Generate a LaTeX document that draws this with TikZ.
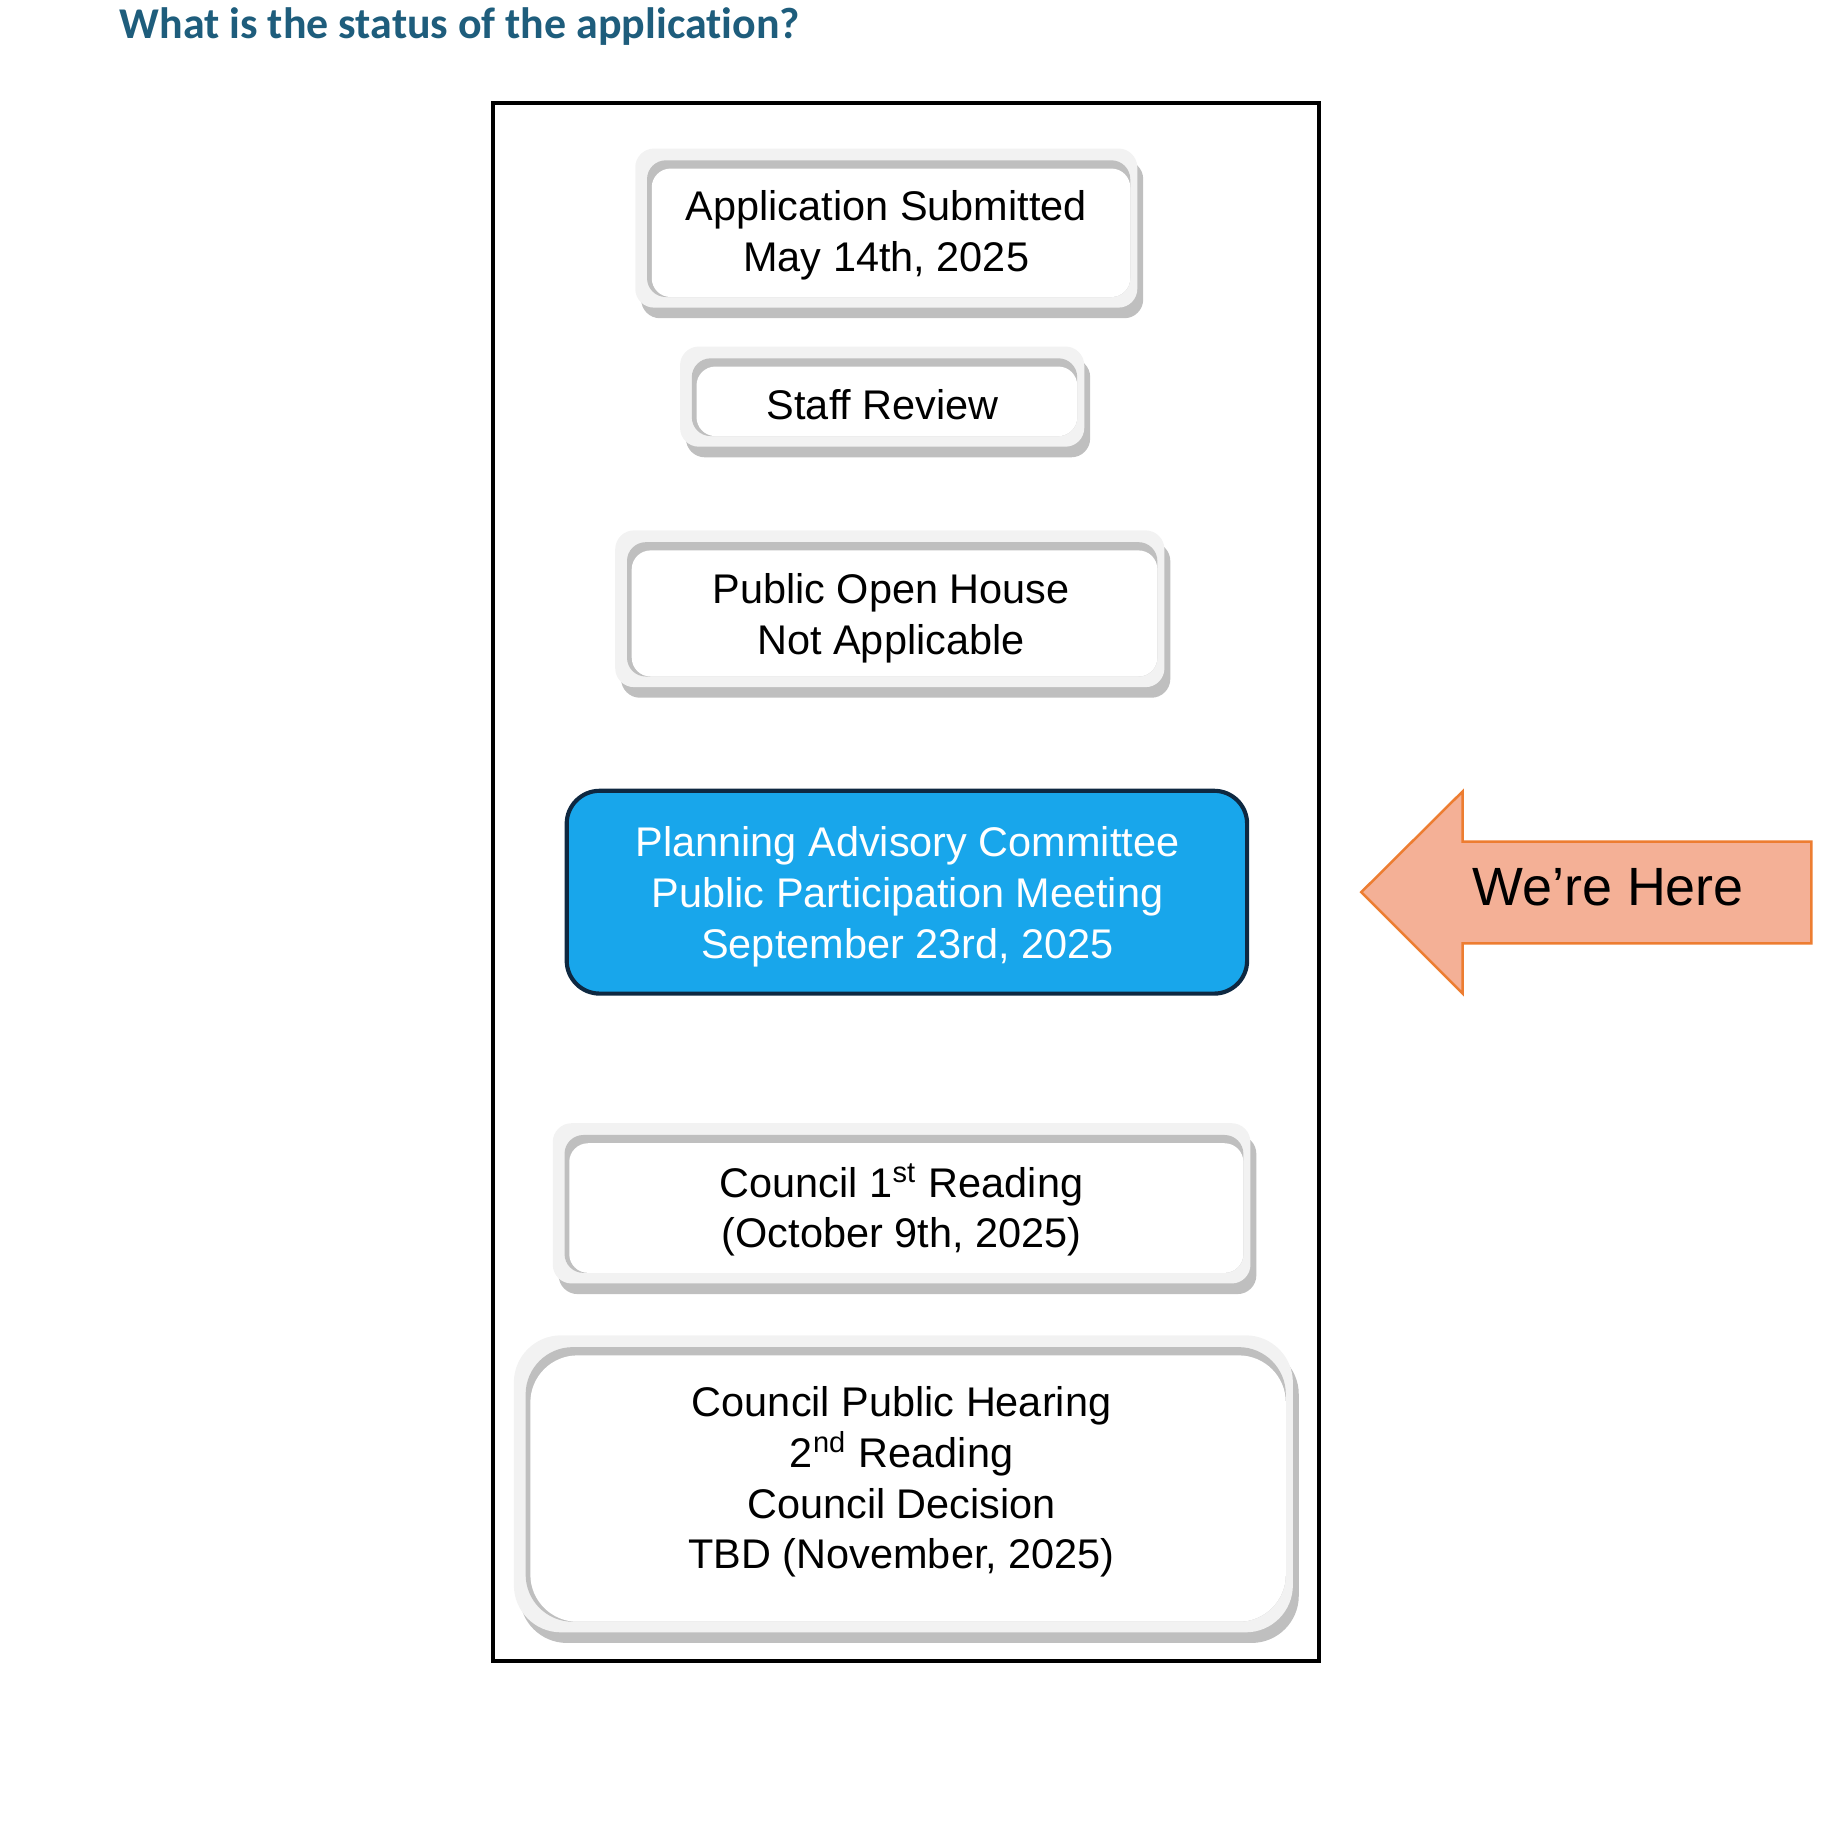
\documentclass[tikz,border=0pt]{standalone}
\usepackage{fontspec}
\setmainfont{Liberation Sans}
\newfontfamily\titlefont[Ligatures=NoCommon]{Carlito}
\usepackage{tikz}

\definecolor{titleblue}{RGB}{30,93,124}
\definecolor{bevlight}{RGB}{242,242,242}
\definecolor{bevdark}{RGB}{191,191,191}
\definecolor{stepblue}{RGB}{24,166,235}
\definecolor{stepnavy}{RGB}{14,40,65}
\definecolor{herefill}{RGB}{244,176,150}
\definecolor{hereline}{RGB}{237,125,49}

% bevelled box: x1, y1, x2, y2, corner radius
\newcommand{\bevelbox}[5]{%
\fill[bevdark,rounded corners=#5] (#1+5,#2+10) rectangle (#3,#4);
\fill[bevlight,rounded corners=#5] (#1,#2) rectangle (#3-5,#4-9);
\fill[bevdark,rounded corners=#5] (#1+10,#2+10) rectangle (#3-11,#4-18);
\fill[white,rounded corners=#5] (#1+14,#2+17) rectangle (#3-11,#4-18);
}

\begin{document}
\begin{tikzpicture}[x=0.01cm,y=-0.01cm,inner sep=0mm,
steptext/.style={align=center,font=\fontsize{10}{12.24}\selectfont}]
\useasboundingbox (0,0) rectangle (1568,1568);

%Title
\node at (101,32.5) [anchor=base west,text=titleblue,font=\titlefont\bfseries\fontsize{10.6}{12}\selectfont] (Title) {What is the status of the application?};

%Frame
\draw [line width=0.034cm] (418,87) rectangle (1119,1409);

%Bevel Boxes
\bevelbox{539}{126}{970}{270}{1.6mm}
\bevelbox{577}{294}{925}{388}{1.6mm}
\bevelbox{522}{450}{993}{592}{1.6mm}
\bevelbox{469}{953}{1066}{1098}{1.6mm}
\bevelbox{436}{1133}{1102}{1394}{4mm}

%Current Step
\node at (769.5,757) [draw=stepnavy,fill=stepblue,line width=1pt,rounded corners=2.8mm,minimum width=5.77cm,minimum height=1.72cm] (PAC) {};

%Step Labels
\node at (752,199.5) [steptext] (Submitted) {Application Submitted\\May 14th, 2025};
\node at (749,343) [steptext] (Review) {Staff Review};
\node at (756,524.5) [steptext] (OpenHouse) {Public Open House\\Not Applicable};
\node at (770,761) [steptext,text=white] (PACtext) {Planning Advisory Committee\\Public Participation Meeting\\September 23rd, 2025};
\node at (765,1026.5) [steptext] (FirstReading) {Council 1\textsuperscript{st} Reading\\(October 9th, 2025)};
\node at (765,1257.5) [steptext] (Hearing) {Council Public Hearing\\2\textsuperscript{nd} Reading\\Council Decision\\TBD (November, 2025)};

%We're Here Arrow
\draw [fill=herefill,draw=hereline,line width=0.6pt] (1155,757) -- (1241,671.5) -- (1241,714) -- (1537,714) -- (1537,800.5) -- (1241,800.5) -- (1241,843) -- cycle;
\node at (1364.5,752.5) [font=\fontsize{13}{15}\selectfont] (Here) {We’re Here};
\end{tikzpicture}
\end{document}
